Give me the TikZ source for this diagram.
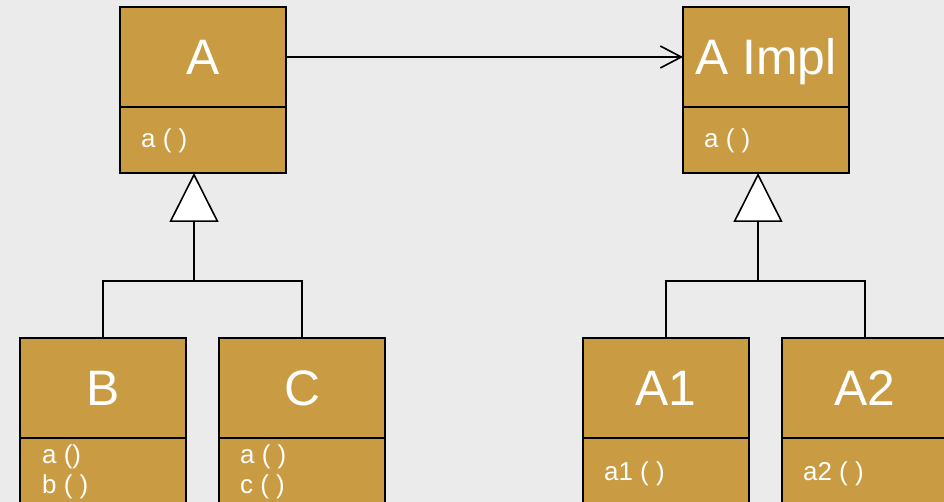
\documentclass[tikz,border=0pt]{standalone}
\usepackage{fontspec}
\setmainfont{Liberation Sans}
\usetikzlibrary{arrows.meta}
\definecolor{boxfill}{HTML}{C99B43}
\definecolor{bgc}{HTML}{EBEBEB}
\begin{document}
\begin{tikzpicture}[x=1bp,y=-1bp,
  classtitle/.style={draw=black,fill=boxfill,line width=1.6bp,minimum width=166bp,minimum height=100bp,outer sep=0pt,
    inner sep=0pt,text=white,font=\fontsize{50}{58}\selectfont,text height=35.8bp,text depth=0pt,anchor=north west},
  classmeth/.style={draw=black,fill=boxfill,line width=1.6bp,minimum width=166bp,inner sep=0pt,outer sep=0pt,anchor=north west},
  mtext/.style={text=white,font=\fontsize{26}{31}\selectfont,inner sep=0pt,anchor=base west},
  conn/.style={draw=black,line width=1.6bp},
  inh/.style={conn,-{Triangle[length=49bp,width=49bp,fill=white,line width=1.6bp]}},
  assoc/.style={conn,-{Straight Barb[length=21bp,width=22bp,line width=1.6bp]}}
]
\useasboundingbox (0,0) rectangle (944,502);
\clip (0,0) rectangle (944,502);
\fill[bgc] (0,0) rectangle (944,502);

% top classes
\node[classtitle] (A) at (120,7) {A};
\node[classmeth,minimum height=66bp] (Am) at (120,107) {};
\node[mtext] (Amt) at (141,148) {a ( )};

\node[classtitle] (AI) at (683,7) {A Impl};
\node[classmeth,minimum height=66bp] (AIm) at (683,107) {};
\node[mtext] (AImt) at (704,148) {a ( )};

% bottom classes
\node[classtitle] (B) at (20,338) {B};
\node[classmeth,minimum height=100bp] (Bm) at (20,438) {};
\node[mtext] (Bmt1) at (42,463) {a ()};
\node[mtext] (Bmt2) at (42,493) {b ( )};

\node[classtitle] (C) at (219,338) {C};
\node[classmeth,minimum height=100bp] (Cm) at (219,438) {};
\node[mtext] (Cmt1) at (240,463) {a ( )};
\node[mtext] (Cmt2) at (240,493) {c ( )};

\node[classtitle] (A1) at (583,338) {A1};
\node[classmeth,minimum height=100bp] (A1m) at (583,438) {};
\node[mtext] (A1mt) at (604,480) {a1 ( )};

\node[classtitle] (A2) at (782,338) {A2};
\node[classmeth,minimum height=100bp] (A2m) at (782,438) {};
\node[mtext] (A2mt) at (803,480) {a2 ( )};

% association
\draw[assoc] (A.east) -- (AI.west);

% inheritance left
\coordinate (j1) at (194,281);
\draw[conn] (B.north) |- (j1) -| (C.north);
\draw[inh] (j1) -- ([xshift=-9bp]Am.south);

% inheritance right
\coordinate (j2) at (758,281);
\draw[conn] (A1.north) |- (j2) -| (A2.north);
\draw[inh] (j2) -- ([xshift=-8bp]AIm.south);
\end{tikzpicture}
\end{document}
